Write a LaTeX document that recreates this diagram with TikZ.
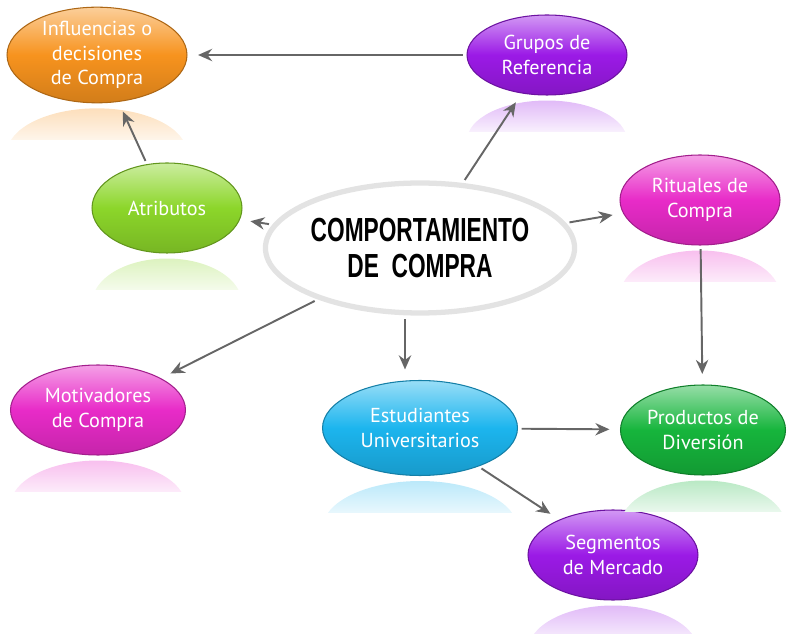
\documentclass[tikz,border=0pt]{standalone}
\usepackage{fontspec}
\usetikzlibrary{shapes.geometric,arrows.meta,calc}
\newfontfamily\bubblefont{PT Sans}
\newfontfamily\handfont[FakeStretch=0.68]{Liberation Sans}
\definecolor{orangeN}{HTML}{F7931E}
\definecolor{purpleN}{HTML}{9B1AE6}
\definecolor{limeN}{HTML}{8CD62A}
\definecolor{magentaN}{HTML}{E82BC8}
\definecolor{cyanN}{HTML}{1CB5EE}
\definecolor{greenN}{HTML}{16B53C}
\tikzset{
  bubble/.style={ellipse, draw=#1!70!black, line width=0.6pt,
    top color=#1!45!white, bottom color=#1!85!black, middle color=#1,
    text=white, font=\bubblefont\fontsize{11.5}{14}\selectfont,
    align=center, inner sep=0pt},
  link/.style={draw=gray!80!black, line width=1.1pt,
    -{Stealth[length=8pt,width=7pt]}, shorten <=2pt, shorten >=6pt}
}
\begin{document}
\begin{tikzpicture}[x=0.02cm, y=-0.02cm]
  \useasboundingbox (0,0) rectangle (794,634);
  \begin{scope}[every node/.style={minimum height=1.8cm}]
    \node[ellipse, draw=gray!22, line width=3pt, fill=white,
      minimum width=5.2cm, minimum height=2.6cm, align=center, inner sep=0pt,
      font=\handfont\bfseries\fontsize{19}{20}\selectfont] (C) at (420,248)
      {COMPORTAMIENTO\\DE\ \ COMPRA};
    \node[bubble=orangeN, minimum width=3.6cm] (I) at (97,55) {Influencias o\\decisiones\\de Compra};
    \node[bubble=purpleN, minimum width=3.2cm, minimum height=1.6cm] (G) at (547,55) {Grupos de\\Referencia};
    \node[bubble=limeN, minimum width=3.0cm] (A) at (167,208) {Atributos};
    \node[bubble=magentaN, minimum width=3.2cm] (R) at (700,200) {Rituales de\\Compra};
    \node[bubble=magentaN, minimum width=3.5cm] (M) at (98,410) {Motivadores\\de Compra};
    \node[bubble=cyanN, minimum width=3.9cm, minimum height=1.9cm] (E) at (420,428) {Estudiantes\\Universitarios};
    \node[bubble=greenN, minimum width=3.3cm] (P) at (703,430) {Productos de\\Diversión};
    \node[bubble=purpleN, minimum width=3.4cm] (S) at (613,555) {Segmentos\\de Mercado};
  \end{scope}
  % reflections
  \foreach \n/\c/\w/\h in {I/orangeN/180/90, G/purpleN/160/80, A/limeN/150/90,
      R/magentaN/160/90, M/magentaN/175/90, E/cyanN/195/95, P/greenN/165/90,
      S/purpleN/170/90} {
    \begin{scope}
      \clip ($(\n.south)+(-\w/2,5)$) rectangle ($(\n.south)+(\w/2,36)$);
      \shade[top color=\c!30!white, bottom color=white, middle color=white]
        ($(\n.south)+(0,5+\h/2)$) ellipse [x radius=\w/2, y radius=\h/2];
    \end{scope}
  }
  \begin{scope}[every edge/.style={link}]
    \path (G) edge (I);
    \path (A) edge (I);
    \path (C) edge (G);
    \path (C) edge (A);
    \path (C) edge (R);
    \path (C) edge (M);
    \path (C.south -| 405,0) edge (E.north -| 405,0);
    \path (R) edge (P);
    \path (E) edge (P);
    \path (E) edge (S);
  \end{scope}
\end{tikzpicture}
\end{document}
